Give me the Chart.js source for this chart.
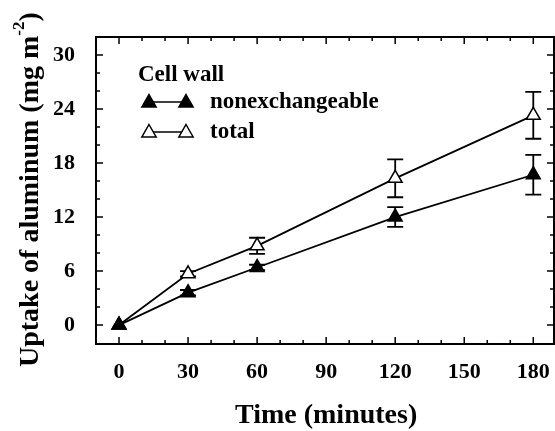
<!DOCTYPE html>
<html><head><meta charset="utf-8">
<script src="https://cdn.jsdelivr.net/npm/chart.js@4/dist/chart.umd.min.js"></script>
<style>html,body{margin:0;padding:0;background:#fff}#w{width:555px;height:431px;position:relative}</style>
</head><body><div id="w"><canvas id="c"></canvas></div>
<script>
const timeMin = [0, 30, 60, 120, 180];
const nonexchangeable = [0, 3.6, 6.4, 12.0, 16.7];
const nonexchangeableErr = [0, 0.3, 0.3, 1.1, 2.2];
const total = [0, 5.7, 8.8, 16.3, 23.3];
const totalErr = [0, 0.3, 0.9, 2.1, 2.6];
const xTickValues = [0, 30, 60, 90, 120, 150, 180];
const yTickValues = [0, 6, 12, 18, 24, 30];
const xTitle = 'Time (minutes)';
const yTitle = 'Uptake of aluminum (mg m';
const legendTitle = 'Cell wall';
const seriesNames = ['nonexchangeable', 'total'];

const FONT = '"Liberation Serif", "Times New Roman", serif';

const errs = [nonexchangeableErr, totalErr];

const framePlugin = {
  id: 'frame',
  beforeDatasetsDraw(chart) {
    const ctx = chart.ctx;
    const xs = chart.scales.x, ys = chart.scales.y;
    ctx.save();
    ctx.strokeStyle = '#000';
    ctx.lineWidth = 1.8;
    chart.data.datasets.forEach((ds, i) => {
      ds.data.forEach((p, j) => {
        const e = errs[i][j];
        if (!e) return;
        const px = xs.getPixelForValue(p.x);
        const t = ys.getPixelForValue(p.y + e), b = ys.getPixelForValue(p.y - e);
        ctx.beginPath();
        ctx.moveTo(px, t); ctx.lineTo(px, b);
        ctx.moveTo(px - 8, t); ctx.lineTo(px + 8, t);
        ctx.moveTo(px - 8, b); ctx.lineTo(px + 8, b);
        ctx.stroke();
      });
    });
    ctx.restore();
  },
  afterDraw(chart) {
    const ctx = chart.ctx, a = chart.chartArea;
    const xs = chart.scales.x, ys = chart.scales.y;
    ctx.save();
    ctx.strokeStyle = '#000';
    ctx.lineWidth = 2;
    ctx.strokeRect(a.left, a.top, a.right - a.left, a.bottom - a.top);
    ctx.lineWidth = 1.5;
    ctx.beginPath();
    for (let v = 0; v <= 180; v += 10) {
      const px = xs.getPixelForValue(v);
      const L = v % 30 === 0 ? 7 : 4;
      ctx.moveTo(px, a.bottom); ctx.lineTo(px, a.bottom - L);
      ctx.moveTo(px, a.top); ctx.lineTo(px, a.top + L);
    }
    for (let v = 0; v <= 30; v += 2) {
      const py = ys.getPixelForValue(v);
      const L = v % 6 === 0 ? 7 : 4;
      ctx.moveTo(a.left, py); ctx.lineTo(a.left + L, py);
      ctx.moveTo(a.right, py); ctx.lineTo(a.right - L, py);
    }
    ctx.stroke();

    // axis titles
    ctx.fillStyle = '#000';
    ctx.font = 'bold 28px ' + FONT;
    ctx.textAlign = 'left';
    ctx.textBaseline = 'middle';
    ctx.fillText(xTitle, 235, 416);

    ctx.save();
    ctx.translate(31, 0);
    ctx.rotate(-Math.PI / 2);
    ctx.font = 'bold 28px ' + FONT;
    const w1 = ctx.measureText(yTitle).width;
    ctx.font = 'bold 17px ' + FONT;
    const w2 = ctx.measureText('-2').width;
    let x = -367;
    ctx.font = 'bold 28px ' + FONT;
    ctx.fillText(yTitle, x, 0);
    x += w1;
    ctx.font = 'bold 17px ' + FONT;
    ctx.fillText('-2', x, -11);
    x += w2;
    ctx.font = 'bold 28px ' + FONT;
    ctx.fillText(')', x, 0);
    ctx.restore();

    // legend
    ctx.textAlign = 'left';
    ctx.font = 'bold 23px ' + FONT;
    ctx.fillText(legendTitle, 138, 75);
    const rows = [102, 132];
    chart.data.datasets.forEach((ds, i) => {
      const y = rows[i];
      ctx.lineWidth = 1.5;
      ctx.strokeStyle = '#000';
      ctx.beginPath(); ctx.moveTo(149, y); ctx.lineTo(186, y); ctx.stroke();
      [149, 186].forEach(cx => drawTri(ctx, cx, y, 7.5, ds.pointBackgroundColor));
      ctx.fillStyle = '#000';
      ctx.font = 'bold 23px ' + FONT;
      ctx.fillText(ds.label, 210, y);
    });
    ctx.restore();
  }
};

function drawTri(ctx, cx, cy, r, fill) {
  ctx.beginPath();
  ctx.moveTo(cx, cy - r);
  ctx.lineTo(cx + r * 0.95, cy + r * 0.65);
  ctx.lineTo(cx - r * 0.95, cy + r * 0.65);
  ctx.closePath();
  ctx.fillStyle = fill; ctx.fill();
  ctx.lineWidth = 1.5; ctx.strokeStyle = '#000'; ctx.stroke();
}

const toPts = arr => arr.map((v, i) => ({ x: timeMin[i], y: v }));

new Chart(document.getElementById('c'), {
  type: 'line',
  data: {
    datasets: [
      { label: seriesNames[0], data: toPts(nonexchangeable), borderColor: '#000', borderWidth: 1.8,
        pointStyle: 'triangle', pointRadius: 8, pointBackgroundColor: '#000', pointBorderColor: '#000', pointBorderWidth: 1.5, tension: 0 },
      { label: seriesNames[1], data: toPts(total), borderColor: '#000', borderWidth: 1.8,
        pointStyle: 'triangle', pointRadius: 8, pointBackgroundColor: '#fff', pointBorderColor: '#000', pointBorderWidth: 1.5, tension: 0 }
    ]
  },
  options: {
    responsive: true, maintainAspectRatio: false, animation: false,
    layout: { autoPadding: false, padding: { top: 37, right: 1, left: 0, bottom: 0 } },
    plugins: { legend: { display: false }, tooltip: { enabled: false } },
    scales: {
      x: {
        type: 'linear', min: -10, max: 189,
        grid: { display: false }, border: { display: false },
        afterBuildTicks: s => { s.ticks = xTickValues.map(v => ({ value: v })); },
        afterFit: s => { s.height = 87; s.paddingLeft = 0; s.paddingRight = 0; },
        ticks: { color: '#000', padding: 7, maxRotation: 0, font: { family: FONT, size: 22, weight: 'bold' } }
      },
      y: {
        min: -2.1, max: 32,
        grid: { display: false }, border: { display: false },
        afterBuildTicks: s => { s.ticks = yTickValues.map(v => ({ value: v })); },
        afterFit: s => { s.width = 96; s.paddingTop = 0; s.paddingBottom = 0; },
        ticks: { color: '#000', padding: 13, font: { family: FONT, size: 22, weight: 'bold' } }
      }
    }
  },
  plugins: [framePlugin]
});
</script></body></html>
